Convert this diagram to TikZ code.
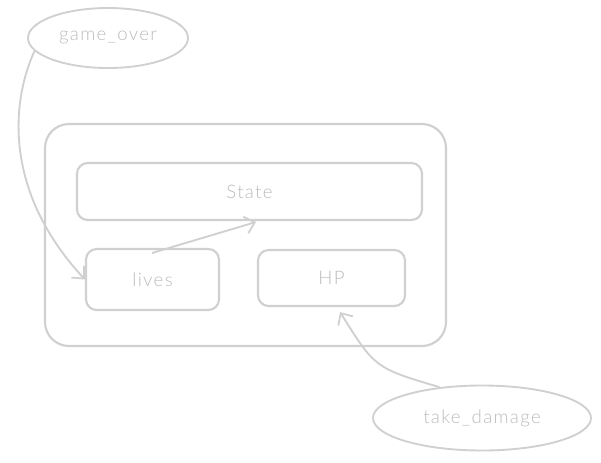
\documentclass[tikz,border=0pt]{standalone}
\usepackage{fontspec}
\setmainfont{Lato Light}[LetterSpace=7]
\usetikzlibrary{shapes.geometric,arrows.meta}
\definecolor{ln}{HTML}{D0D0D0}
\definecolor{tx}{HTML}{BBBBBB}
\tikzset{
  px/.style={x=0.75pt,y=-0.75pt},
  box/.style={draw=ln,line width=1.6pt,rounded corners=#1,inner sep=0pt},
  oval/.style={draw=ln,line width=1.4pt,ellipse,inner sep=0pt},
  lbl/.style={text=tx,font=\fontsize{14}{16}\selectfont},
  conn/.style={draw=ln,line width=1.4pt,-{Straight Barb[length=7pt,width=13pt,line width=1.3pt]}},
}
\begin{document}
\begin{tikzpicture}[px]
\useasboundingbox (0,0) rectangle (601,462);
\node[box=18pt,minimum width=401*0.75pt,minimum height=222*0.75pt] (outer) at (245.5,235) {};
\node[box=8pt,minimum width=345*0.75pt,minimum height=57*0.75pt,lbl] (state) at (249.5,191.5) {State};
\node[box=8pt,minimum width=133*0.75pt,minimum height=61*0.75pt,lbl] (lives) at (152.5,279.5) {lives};
\node[box=8pt,minimum width=147*0.75pt,minimum height=56*0.75pt,lbl] (hp) at (331.5,278) {HP};
\node[oval,minimum width=160*0.75pt,minimum height=60*0.75pt,lbl] (go) at (108,38) {game\_over};
\node[oval,minimum width=218*0.75pt,minimum height=65*0.75pt,lbl] (td) at (482,418) {take\_damage};
\draw[conn] (go.190) .. controls (12,100) and (2,190) .. (lives.west);
\coordinate (ls) at (152,253);
\coordinate (se) at (256,222);
\draw[conn] (ls) -- (se);
\coordinate (hpin) at (340,312);
\draw[conn] (td.144) .. controls (375,368) .. (hpin);
\end{tikzpicture}
\end{document}
